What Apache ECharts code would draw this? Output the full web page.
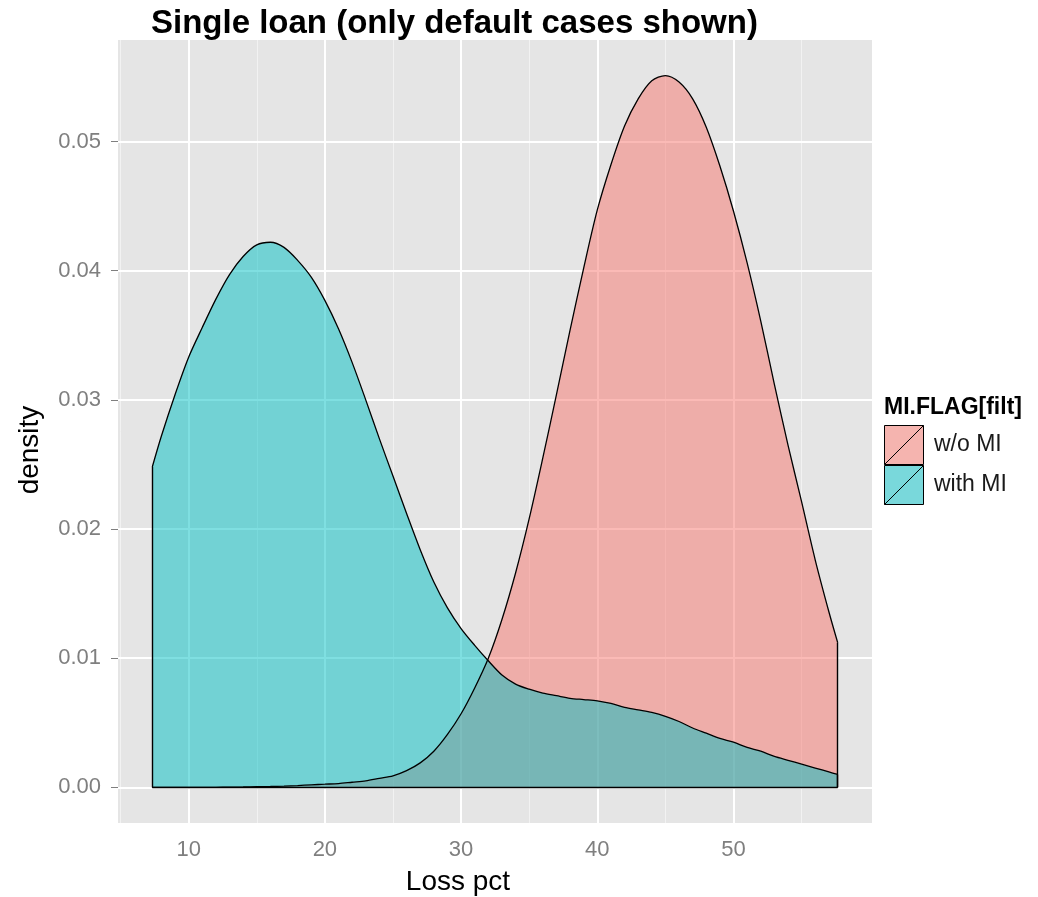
<!DOCTYPE html>
<html>
<head>
<meta charset="utf-8">
<script src="https://cdn.jsdelivr.net/npm/echarts@6/dist/echarts.min.js"></script>
<style>
html, body { margin: 0; padding: 0; background: #fff; }
#chart { width: 1038px; height: 897px; }
</style>
</head>
<body>
<div id="chart"></div>
<script>
// loss pct grid shared by both density curves
var lossPct = [7.33, 8, 9, 10, 11, 12, 13, 14, 15, 16, 17, 18, 19, 20, 21, 22, 23, 24, 25, 26, 27, 28, 29, 30,
    31, 32, 33, 34, 35, 36, 37, 38, 39, 40, 41, 42, 43, 44, 45, 46, 47, 48, 49, 50, 51, 52, 53, 54, 55, 56, 57, 57.65];

var densityNoMI = [0, 0, 0, 0, 0, 0.00001, 0.00002, 0.00003, 0.00005, 0.00007, 0.0001, 0.00014, 0.0002, 0.00025,
    0.0003, 0.0004, 0.0005, 0.0007, 0.0009, 0.0013, 0.0019, 0.0028, 0.0041, 0.0057, 0.0077, 0.0100, 0.0130, 0.0166,
    0.0208, 0.0255, 0.0304, 0.0354, 0.0402, 0.0447, 0.0482, 0.0512, 0.0533, 0.0547, 0.0551, 0.0546, 0.0533, 0.0511,
    0.0481, 0.0446, 0.0406, 0.0361, 0.0312, 0.0265, 0.0221, 0.0176, 0.0136, 0.0112];

var densityWithMI = [0.0248, 0.0272, 0.0304, 0.0333, 0.0356, 0.0378, 0.0397, 0.0411, 0.0420, 0.0422, 0.0418, 0.0408,
    0.0395, 0.0377, 0.0355, 0.0329, 0.0300, 0.0270, 0.0241, 0.0212, 0.0184, 0.0159, 0.0139, 0.0123, 0.0110, 0.0098,
    0.0087, 0.0080, 0.0076, 0.0073, 0.0071, 0.0069, 0.0068, 0.0067, 0.0065, 0.0062, 0.0060, 0.0058, 0.0055, 0.0051,
    0.0046, 0.0042, 0.0038, 0.0035, 0.0031, 0.0028, 0.0024, 0.0021, 0.0018, 0.0015, 0.0012, 0.0010];

var groupNames = ['w/o MI', 'with MI'];

var xMajor = [10, 20, 30, 40, 50];
var xMinor = [5, 15, 25, 35, 45, 55];
var yMajor = [0, 0.01, 0.02, 0.03, 0.04, 0.05];
var yMinor = [0.005, 0.015, 0.025, 0.035, 0.045, 0.055];

var FONT = '"Liberation Sans", Arial, sans-serif';

// ggplot style 5% expansion around the data range
var xLo = lossPct[0], xHi = lossPct[lossPct.length - 1];
var xPad = (xHi - xLo) * 0.05;
var yTop = Math.max.apply(null, densityNoMI.concat(densityWithMI));
var yPad = yTop * 0.05;

function curve(ys) {
    return lossPct.map(function (x, i) { return [x, ys[i]]; });
}

// vertical end edges of the density polygon (and the shared bottom edge)
function edges(ys, withBottom) {
    var last = ys.length - 1;
    var segs = [
        [{ coord: [xLo, 0] }, { coord: [xLo, ys[0]] }],
        [{ coord: [xHi, 0] }, { coord: [xHi, ys[last]] }]
    ];
    if (withBottom) segs.push([{ coord: [xLo, 0] }, { coord: [xHi, 0] }]);
    return segs;
}

var minorStyle = { color: '#F2F2F2', width: 1, type: 'solid' };
var majorStyle = { color: '#FFFFFF', width: 2, type: 'solid' };
var gridLines = []
    .concat(xMinor.map(function (v) { return { xAxis: v, lineStyle: minorStyle }; }))
    .concat(yMinor.map(function (v) { return { yAxis: v, lineStyle: minorStyle }; }))
    .concat(xMajor.map(function (v) { return { xAxis: v, lineStyle: majorStyle }; }))
    .concat(yMajor.map(function (v) { return { yAxis: v, lineStyle: majorStyle }; }));

var edgeMark = function (ys, withBottom) {
    return {
        silent: true,
        symbol: ['none', 'none'],
        label: { show: false },
        lineStyle: { color: '#000', width: 1.4, type: 'solid' },
        data: edges(ys, withBottom)
    };
};

var chart = echarts.init(document.getElementById('chart'));

chart.setOption({
    animation: false,
    backgroundColor: '#FFFFFF',
    title: [{
        text: 'Single loan (only default cases shown)',
        left: 146,
        top: 2,
        textStyle: { fontFamily: FONT, fontWeight: 'bold', fontSize: 33, color: '#000' }
    }, {
        text: 'MI.FLAG[filt]',
        left: 879,
        top: 391,
        textStyle: { fontFamily: FONT, fontWeight: 'bold', fontSize: 23, color: '#000' }
    }],
    legend: {
        orient: 'vertical',
        left: 884,
        top: 425,
        padding: 0,
        itemWidth: 46,
        itemHeight: 39,
        itemGap: 0,
        selectedMode: false,
        icon: 'path://M0,0H10V10H0Z M0,10L10,0',
        itemStyle: { borderColor: '#000', borderWidth: 1 },
        textStyle: { fontFamily: FONT, fontSize: 23, color: '#1A1A1A', padding: [0, 0, 0, 2] },
        data: [
            { name: groupNames[0], itemStyle: { color: '#F5B4AF' } },
            { name: groupNames[1], itemStyle: { color: '#79D8DB' } }
        ]
    },
    grid: {
        left: 118, top: 40, width: 754, height: 783,
        show: true, backgroundColor: '#E5E5E5', borderWidth: 0,
        outerBoundsMode: 'none'
    },
    xAxis: {
        type: 'value',
        min: xLo - xPad,
        max: xHi + xPad,
        axisLine: { show: false },
        splitLine: { show: false },
        axisTick: { show: true, customValues: xMajor, length: 7, lineStyle: { color: '#7F7F7F', width: 1 } },
        axisLabel: { customValues: xMajor, margin: 16, color: '#7F7F7F', fontSize: 22, fontFamily: FONT }
    },
    yAxis: {
        type: 'value',
        min: -yPad,
        max: yTop + yPad,
        axisLine: { show: false },
        splitLine: { show: false },
        axisTick: { show: true, customValues: yMajor, length: 7, lineStyle: { color: '#7F7F7F', width: 1 } },
        axisLabel: {
            customValues: yMajor, margin: 17, color: '#7F7F7F', fontSize: 22, fontFamily: FONT,
            formatter: function (v) { return v.toFixed(2); }
        }
    },
    graphic: [{
        type: 'text', x: 458, y: 882,
        style: { text: 'Loss pct', font: '28px ' + FONT, fill: '#000', textAlign: 'center', textVerticalAlign: 'middle' }
    }, {
        type: 'text', x: 30, y: 450, rotation: Math.PI / 2,
        style: { text: 'density', font: '28px ' + FONT, fill: '#000', textAlign: 'center', textVerticalAlign: 'middle' }
    }],
    series: [{
        type: 'line',
        name: 'grid',
        data: [],
        silent: true,
        markLine: {
            silent: true,
            z: 1,
            symbol: ['none', 'none'],
            label: { show: false },
            data: gridLines
        }
    }, {
        type: 'line',
        name: groupNames[0],
        data: curve(densityNoMI),
        showSymbol: false,
        symbol: 'none',
        smooth: 0.3,
        color: '#F8766D',
        lineStyle: { color: '#000', width: 1.3 },
        areaStyle: { color: '#F8766D', opacity: 0.5 },
        markLine: edgeMark(densityNoMI, false)
    }, {
        type: 'line',
        name: groupNames[1],
        data: curve(densityWithMI),
        showSymbol: false,
        symbol: 'none',
        smooth: 0.3,
        color: '#00BFC4',
        lineStyle: { color: '#000', width: 1.3 },
        areaStyle: { color: '#00BFC4', opacity: 0.5 },
        markLine: edgeMark(densityWithMI, true)
    }]
});
</script>
</body>
</html>
